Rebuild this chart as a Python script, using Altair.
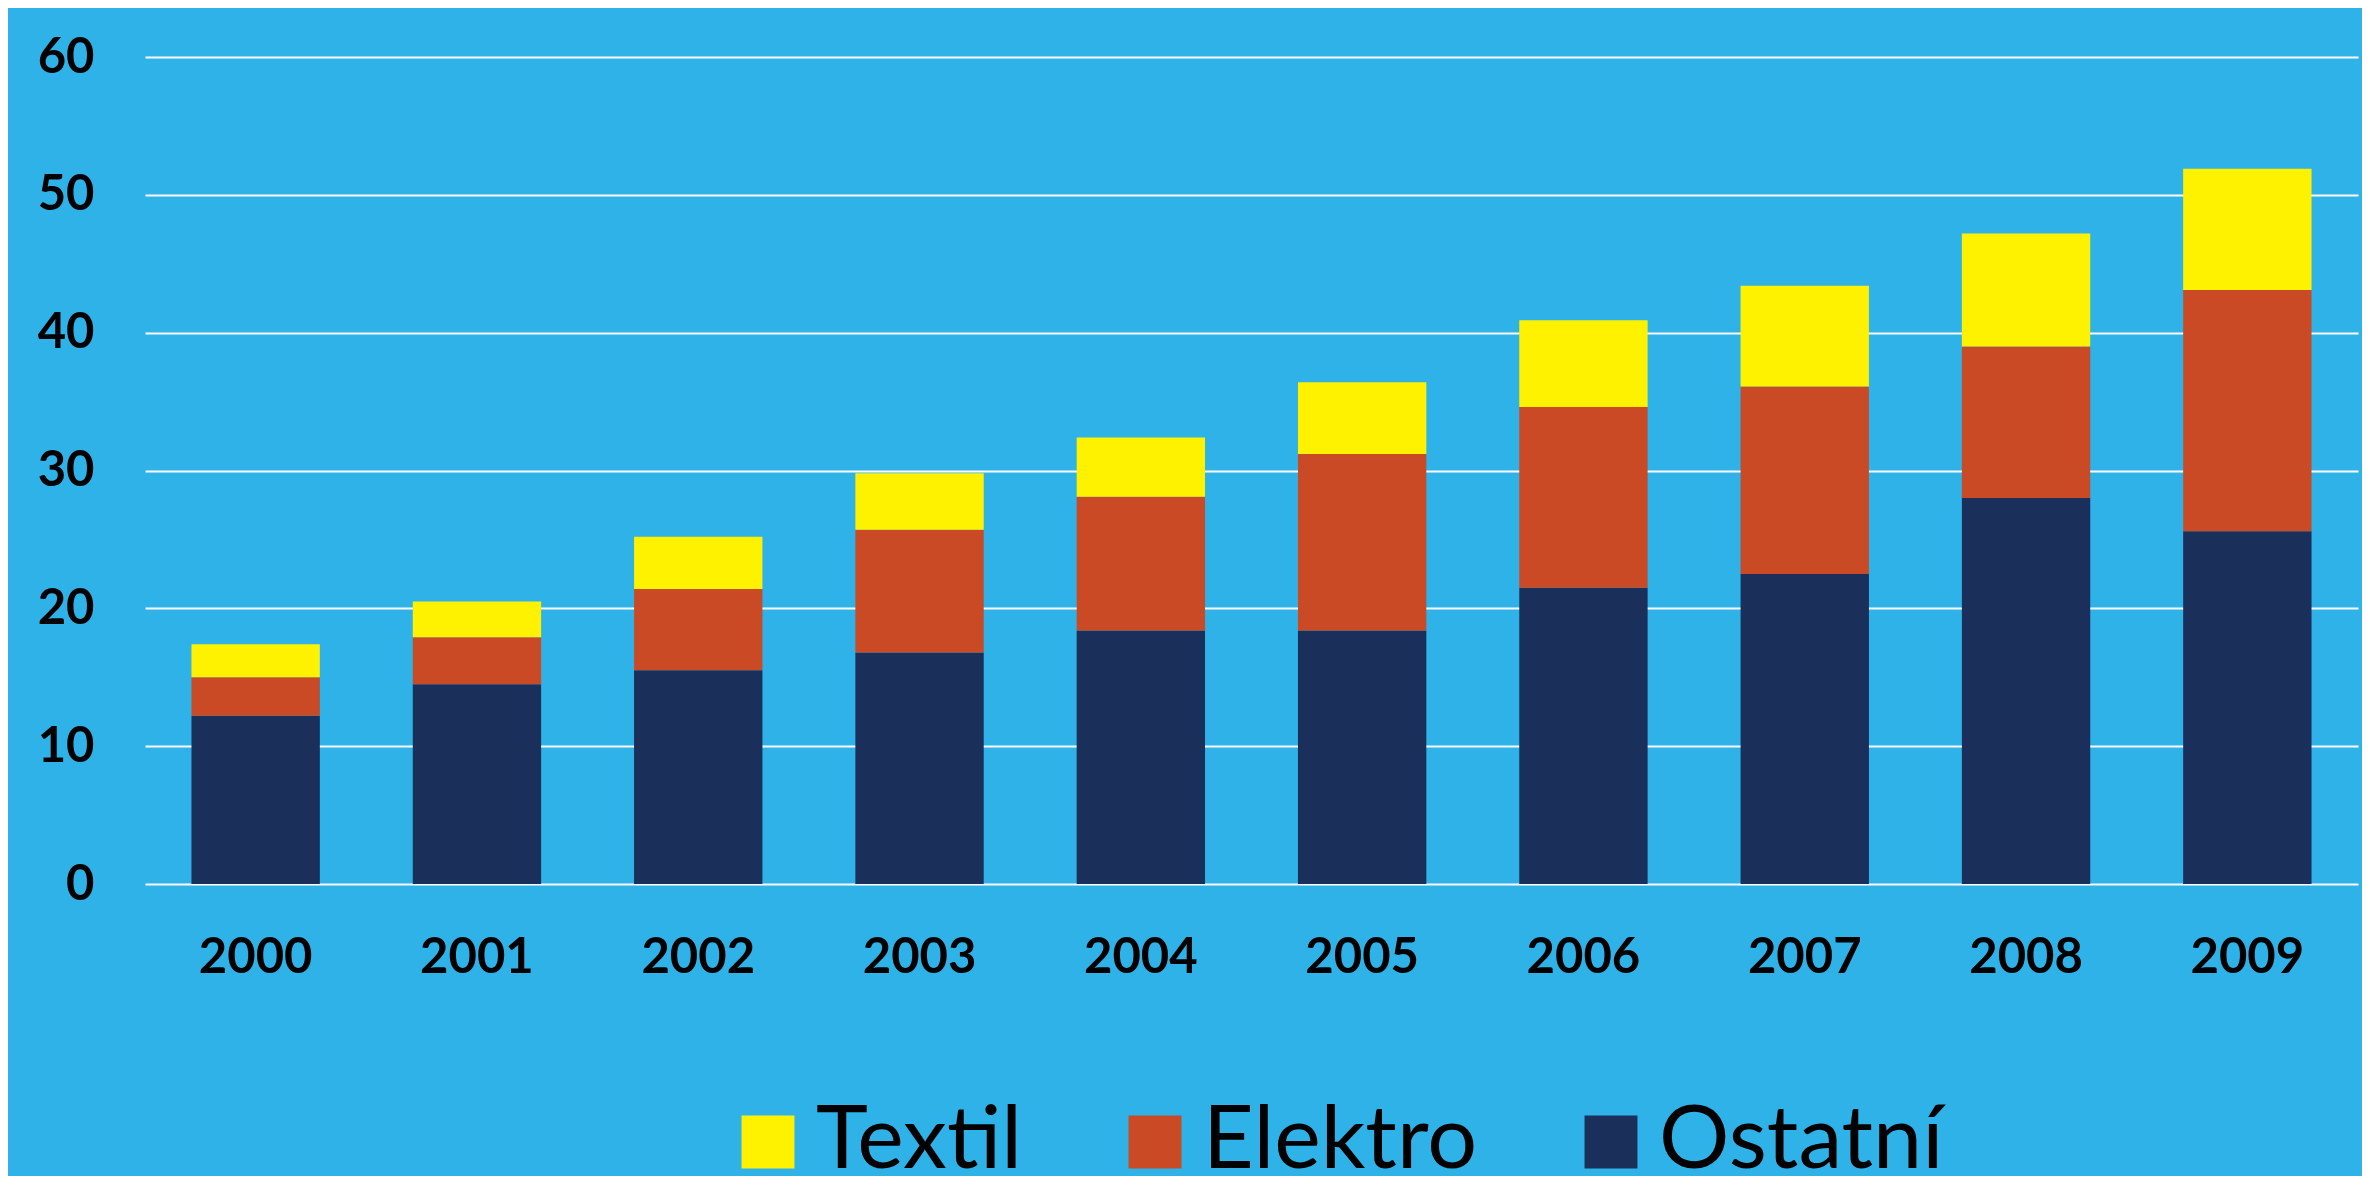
import altair as alt
import pandas as pd

years = ["2000", "2001", "2002", "2003", "2004", "2005", "2006", "2007", "2008", "2009"]
ostatni = [12.2, 14.5, 15.5, 16.8, 18.4, 18.4, 21.5, 22.5, 28.0, 25.6]
elektro = [2.8, 3.4, 5.9, 8.9, 9.7, 12.8, 13.1, 13.6, 11.0, 17.5]
textil = [2.4, 2.6, 3.8, 4.1, 4.3, 5.2, 6.3, 7.3, 8.2, 8.8]

series_names = ["Textil", "Elektro", "Ostatní"]
series_colors = ["#FFF200", "#C94A24", "#1A2F5A"]
stack_rank = {"Ostatní": 0, "Elektro": 1, "Textil": 2}

rows = []
for i, y in enumerate(years):
    for name, vals in (("Ostatní", ostatni), ("Elektro", elektro), ("Textil", textil)):
        rows.append({"rok": y, "serie": name, "hodnota": vals[i], "poradi": stack_rank[name]})
df = pd.DataFrame(rows)

BG = "#2FB2E8"
FONT = "Lato"

chart = (
    alt.Chart(df)
    .mark_bar()
    .encode(
        x=alt.X(
            "rok:N",
            sort=years,
            title=None,
            scale=alt.Scale(paddingInner=0.42, paddingOuter=0.21),
            axis=alt.Axis(
                labelAngle=0,
                labelFontSize=49,
                labelFontWeight="bold",
                labelFont=FONT,
                labelColor="#000000",
                labelPadding=73,
                labelBaseline="middle",
                ticks=False,
                domain=False,
                grid=False,
            ),
        ),
        y=alt.Y(
            "hodnota:Q",
            stack="zero",
            title=None,
            scale=alt.Scale(domain=[0, 60], nice=False, zero=True),
            axis=alt.Axis(
                values=[0, 10, 20, 30, 40, 50, 60],
                labelFontSize=49,
                labelFontWeight="bold",
                labelFont=FONT,
                labelColor="#000000",
                labelPadding=51,
                ticks=False,
                domain=False,
                grid=True,
                gridColor="#FFFFFF",
                gridWidth=2,
                gridOpacity=1,
            ),
        ),
        color=alt.Color(
            "serie:N",
            scale=alt.Scale(domain=series_names, range=series_colors),
            legend=alt.Legend(
                title=None,
                orient="none",
                direction="horizontal",
                legendX=579,
                legendY=1041,
                symbolType="square",
                symbolSize=2800,
                symbolStrokeWidth=0,
                symbolOpacity=1,
                labelFontSize=88,
                labelFont=FONT,
                labelColor="#000000",
                labelOffset=4,
                columnPadding=89,
                labelLimit=1000,
            ),
        ),
        order=alt.Order("poradi:Q", sort="ascending"),
    )
    .properties(
        width=2213,
        height=827,
        background=BG,
        padding={"left": 137, "top": 49, "right": 4, "bottom": 292},
        autosize=alt.AutoSizeParams(type="none"),
    )
    .configure_view(stroke=None)
)

chart.save("out.html", embed_options={"renderer": "svg", "actions": False})
